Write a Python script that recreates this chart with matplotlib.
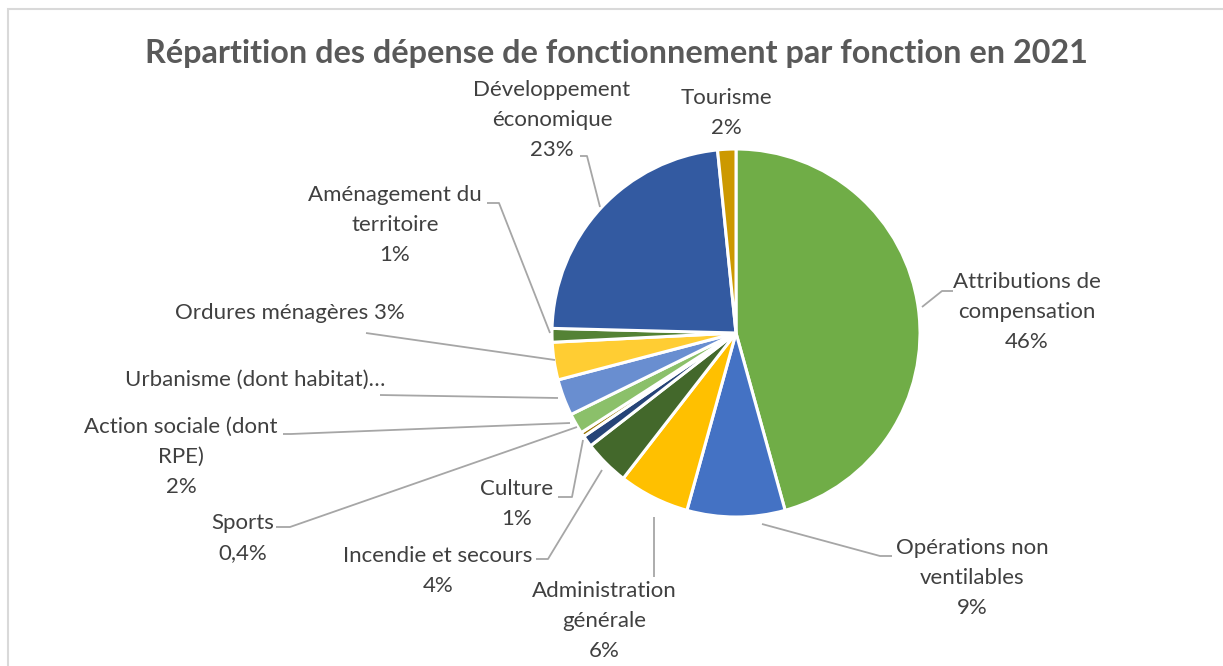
import matplotlib
matplotlib.use("Agg")
import matplotlib.pyplot as plt
from matplotlib.patches import Rectangle

# ---- data ----
categories = [
    "Attributions de\ncompensation",
    "Opérations non\nventilables",
    "Administration\ngénérale",
    "Incendie et secours",
    "Culture",
    "Sports",
    "Action sociale (dont\nRPE)",
    "Urbanisme (dont habitat)…",
    "Ordures ménagères",
    "Aménagement du\nterritoire",
    "Développement\néconomique",
    "Tourisme",
]
values = [45.7, 8.6, 6.2, 4.0, 1.0, 0.4, 1.8, 3.2, 3.3, 1.2, 23.0, 1.6]
show_pct = [True, True, True, True, True, True, True, False, True, True, True, True]
pct_inline = [False, False, False, False, False, False, False, False, True, False, False, False]
colors = ["#70AD47", "#4472C4", "#FFC000", "#43682B", "#264478", "#997300",
          "#8BC06A", "#698ED0", "#FFCD33", "#548235", "#335AA1", "#CC9900"]
title = "Répartition des dépense de fonctionnement par fonction en 2021"

# ---- layout (pixel coordinates, y measured from top) ----
W, H = 1223, 666
center_px = (736, 333)
radius_px = 184
label_pos = [(1027, 312), (972, 578), (604, 621), (438, 571), (517, 504), (243, 538),
             (181, 457), (255, 380), (290, 313), (395, 225), (552, 120), (726, 113)]
leaders = [
    [(922, 307), (942, 291), (953, 291)],
    [(762, 524), (880, 556), (892, 556)],
    [(654, 517), (654, 577)],
    [(602, 470), (548, 559), (536, 559)],
    [(583, 440), (572, 497), (558, 497)],
    [(577, 427), (290, 527), (276, 527)],
    [(570, 423), (291, 434), (283, 434)],
    [(558, 398), (380, 395)],
    [(555, 360), (366, 333)],
    [(550, 333), (499, 203), (487, 203)],
    [(600, 207), (587, 156), (580, 156)],
]

def fmt_pct(v, total):
    p = 100 * v / total
    if p < 1:
        return f"{p:.1f}%".replace(".", ",")
    return f"{p:.0f}%"

plt.rcParams['font.family'] = ['Lato', 'DejaVu Sans']
fig = plt.figure(figsize=(W / 100, H / 100), dpi=100)
ax = fig.add_axes([0, 0, 1, 1])

def Y(y):
    return H - y

ax.pie(values, colors=colors, startangle=90, counterclock=False,
       center=(center_px[0], Y(center_px[1])), radius=radius_px,
       explode=[0.012] * len(values),
       wedgeprops=dict(edgecolor="white", linewidth=2.2))
ax.set_aspect("auto")
ax.set_xlim(0, W)
ax.set_ylim(0, H)
ax.axis("off")

# frame
ax.add_patch(Rectangle((8, Y(680)), W + 20, 671, fill=False, edgecolor="#D9D9D9", linewidth=1.5))

total = sum(values)
for lbl, v, sp, inline, (x, y) in zip(categories, values, show_pct, pct_inline, label_pos):
    if not sp:
        txt = lbl
    elif inline:
        txt = f"{lbl} {fmt_pct(v, total)}"
    else:
        txt = f"{lbl}\n{fmt_pct(v, total)}"
    ax.text(x, Y(y), txt, ha="center", va="center", fontsize=16, color="#404040",
            linespacing=1.62)

for pts in leaders:
    ax.plot([p[0] for p in pts], [Y(p[1]) for p in pts], color="#A6A6A6", linewidth=1.3,
            solid_capstyle="butt")

ax.text(616, Y(53), title, ha="center", va="center", fontsize=23.3, fontweight="bold",
        color="#595959")

fig.savefig("out.png", dpi=100)
